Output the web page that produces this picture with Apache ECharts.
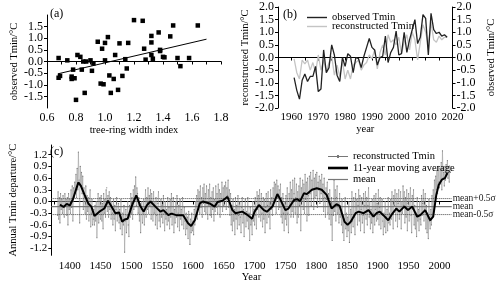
<!DOCTYPE html>
<html><head><meta charset="utf-8">
<script src="https://cdn.jsdelivr.net/npm/echarts@6/dist/echarts.min.js"></script>
<style>html,body{margin:0;padding:0;background:#fff}#c{width:500px;height:287px}</style>
</head><body><div id="c"></div>
<script>
// ---------- Panel (a): scatter ----------
const scatterX = [0.68,0.68,0.69,0.74,0.77,0.77,0.78,0.79,0.80,0.81,0.83,0.84,0.85,0.86,0.87,0.90,0.91,0.92,0.95,0.97,0.98,0.99,1.00,1.00,1.02,1.03,1.04,1.06,1.07,1.09,1.10,1.12,1.14,1.15,1.16,1.20,1.26,1.27,1.28,1.32,1.32,1.32,1.33,1.37,1.38,1.38,1.40,1.41,1.45,1.47,1.50,1.52,1.58,1.64];
const scatterY = [0.15,-0.70,-0.62,0.05,-0.65,-0.75,-0.35,-0.72,-1.65,0.28,0.20,-0.35,0.00,-1.35,0.00,0.05,-0.40,-0.08,0.85,-0.95,0.55,-0.98,0.05,0.80,1.05,-0.60,-1.35,-0.75,0.28,-1.22,0.78,-0.62,0.10,-0.30,0.80,1.78,1.75,0.55,0.08,1.10,0.82,0.28,0.12,1.25,0.45,0.50,0.20,0.18,1.08,1.55,0.15,-0.20,0.15,1.55];
const fitX = [0.675, 1.70];
const fitY = [-0.53, 0.96];
const aXLabels = [0.6,0.8,1.0,1.2,1.4,1.6,1.8];
const aXTicks = [0.6,0.7,0.8,0.9,1.0,1.1,1.2,1.3,1.4,1.5,1.6,1.7,1.8];
const aYLabels = [-2,-1.5,-1,-0.5,0,0.5,1,1.5,2];

// ---------- Panel (b): observed vs reconstructed ----------
const bStartYear = 1961;
const observedTmin = [-0.8,-1.3,-1.65,-0.9,-0.65,-0.95,-0.75,-0.75,-0.35,-1.35,-1.25,0.3,-0.6,-0.4,0.5,0.1,-0.7,-0.95,0.0,-0.35,0.15,0.05,-0.6,0.0,-0.05,-0.4,0.05,0.4,0.75,0.4,0.3,-0.3,0.0,0.05,0.85,-0.2,0.2,0.4,1.05,0.1,0.15,1.0,0.2,0.7,1.1,1.5,0.55,0.8,1.7,1.55,0.1,1.75,1.1,0.95,1.0,0.85,0.9,0.8];
const reconstructedTmin = [-0.05,-0.6,-0.85,-0.1,-0.25,-0.1,-0.5,-0.2,-0.6,0.1,-0.5,-0.1,-0.55,-0.2,0.05,-0.7,-0.3,-0.75,-0.15,-0.85,-0.5,-0.85,-0.3,-0.2,-0.1,-0.5,-0.3,-0.2,0.1,-0.05,0.3,-0.45,0.2,0.5,0.1,0.9,0.6,0.7,0.5,0.8,0.15,0.6,0.9,0.3,1.0,0.7,-0.1,0.6,1.3,1.0,0.5,1.4,0.7,0.6,0.85,0.7,0.8,0.8];
const bXLabels = [1960,1970,1980,1990,2000,2010,2020];
const bXTicks = [1955,1960,1965,1970,1975,1980,1985,1990,1995,2000,2005,2010,2015,2020];
const bYLabels = [-2,-1.5,-1,-0.5,0,0.5,1,1.5,2];

// ---------- Panel (c): reconstruction ----------
const cStartYear = 1380;
const annualRows = [
"-0.35,0.25,-0.45,0.1,-0.55,0.2,-0.2,0.05,-0.3,0.15",
"-0.15,-0.4,0.2,-0.1,0.05,-0.35,0.1,-0.6,0.2,-0.2",
"0.05,-0.3,0.3,-0.15,0.4,-0.5,0.35,0.1,0.5,0.2",
"0.7,0.1,0.85,0.3,1.27,0.55,-0.55,0.9,0.4,0.75",
"0.2,0.65,-0.2,0.35,0.1,-0.3,0.4,-0.45,0.15,-0.25",
"0.1,-0.5,-0.1,0.3,-0.65,-0.3,0.05,-0.6,-0.45,-0.2",
"-0.6,-0.1,-0.5,0.0,-0.93,-0.3,0.2,-0.55,-0.25,0.1",
"-0.45,0.15,-0.5,-0.05,-0.7,0.2,-0.3,0.05,-0.4,0.3",
"0.35,-0.25,0.15,-0.4,0.25,-0.2,0.1,-0.45,0.0,-0.3",
"-0.6,0.05,-0.45,-0.1,-0.75,-0.2,0.1,-0.5,-0.3,-0.05",
"-0.55,-0.2,-0.7,0.05,-0.4,-0.85,-0.3,-0.6,-0.1,-1.3",
"-0.5,-0.2,-0.8,-0.35,0.0,-0.6,-0.9,-0.1,-0.4,0.2",
"-0.3,0.1,-0.45,0.3,-0.2,0.4,0.0,0.63,-0.1,0.35",
"0.2,-0.3,0.1,-0.5,-0.05,-0.8,-0.2,0.0,-0.55,-0.3",
"0.05,-0.6,-0.15,0.3,-0.4,0.1,-0.2,0.35,-0.3,0.15",
"-0.1,0.3,-0.45,0.2,-0.05,-0.5,0.25,-0.3,0.0,-0.6",
"0.1,-0.35,-0.7,-0.05,0.25,-0.5,-0.2,-0.65,0.05,-0.4",
"-0.1,-0.55,0.15,-0.3,-0.75,0.0,-0.45,-0.2,-0.6,0.1",
"-0.5,-0.15,-0.7,0.05,-0.4,0.2,-0.6,-0.3,0.1,-0.8",
"-0.2,-0.55,0.0,-0.4,0.15,-0.65,-0.3,-0.1,-0.75,0.05",
"-0.45,-0.2,-0.6,0.1,-0.35,-0.7,-0.15,-0.5,-0.85,-0.3",
"-0.7,-0.4,-0.95,-0.25,-0.6,-1.1,-0.45,-0.8,-0.3,-0.75",
"-0.5,-0.85,-0.2,-0.6,0.0,-0.35,0.15,-0.45,0.3,-0.1",
"0.25,-0.3,0.4,-0.15,0.1,-0.4,0.35,-0.05,0.45,-0.25",
"0.2,-0.3,0.4,0.0,-0.45,0.3,-0.1,0.45,-0.35,0.1",
"-0.4,0.25,-0.2,0.35,-0.5,0.05,-0.25,0.4,-0.15,0.2",
"-0.3,0.45,-0.1,0.3,-0.4,0.2,0.0,0.5,-0.25,0.35",
"-0.1,0.4,0.05,0.5,-0.2,0.35,0.15,0.55,-0.15,0.3",
"-0.35,0.2,-0.6,-0.1,-0.75,0.05,-0.5,-0.2,-0.85,0.1",
"-0.45,-0.1,-0.7,0.15,-0.35,-0.6,0.0,-0.4,-0.8,-0.15",
"0.1,-0.55,-0.2,-0.9,-0.3,0.05,-0.65,-0.25,-0.5,0.1",
"-0.7,-0.3,-1.0,-0.15,-0.6,-0.45,-0.85,0.0,-0.5,-0.2",
"-0.6,0.1,-0.35,-0.7,0.25,-0.2,0.15,-0.4,0.3,-0.1",
"-0.5,0.2,-0.3,-0.65,0.1,-0.45,0.05,-0.8,-0.15,0.2",
"-0.55,-0.1,0.25,-0.4,0.0,-0.7,0.3,-0.2,0.1,-0.35",
"0.35,-0.1,0.5,0.0,0.45,-0.3,0.55,0.1,0.4,-0.2",
"0.3,-0.15,0.45,-0.4,0.1,-0.55,0.2,-0.3,-0.75,0.0",
"-0.45,0.15,-0.6,0.35,-0.3,-0.8,0.2,-0.1,0.5,-0.4",
"0.3,-0.25,0.55,-0.4,0.2,0.6,-0.3,0.1,0.45,-0.55",
"0.25,-0.4,0.4,-0.1,0.6,-0.75,0.35,0.0,0.55,-0.2",
"0.45,-0.3,0.7,0.05,0.5,-0.5,0.6,0.15,-0.35,0.65",
"0.2,0.75,-0.1,0.55,0.3,0.8,-0.2,0.6,0.1,0.7",
"0.15,0.75,-0.15,0.5,0.3,0.65,-0.05,0.55,0.2,0.7",
"0.0,0.45,-0.25,0.6,0.1,-0.4,0.35,0.05,0.5,-0.3",
"0.2,-0.45,0.3,-0.1,-0.6,0.1,-1.0,0.0,-0.35,0.55",
"-0.25,0.3,-0.5,0.1,0.4,-0.3,0.0,-0.55,0.2,-0.4",
"-0.2,-0.6,0.05,-0.8,-0.35,-1.0,-0.45,0.1,-0.7,-0.3",
"-0.9,-0.4,-0.75,0.0,-1.05,-0.55,-0.2,-0.8,0.25,-0.5",
"-0.65,0.1,-0.4,-0.85,0.2,-0.3,0.05,-0.6,-0.1,0.3",
"-0.5,0.15,-0.75,-0.2,0.1,-0.55,-0.35,0.2,-0.8,-0.1",
"0.25,-0.45,0.1,-0.6,-0.1,0.35,-0.4,0.0,-0.7,-0.2",
"-0.55,0.05,-0.8,-0.3,0.15,-0.6,-0.2,0.2,-0.5,-0.05",
"-0.45,0.3,-0.6,-0.15,0.1,-0.7,-0.25,0.05,-0.5,-0.85",
"-0.3,-0.65,0.0,-0.8,-0.4,-0.2,-0.75,0.1,-0.55,-0.3",
"-0.6,0.05,-0.45,0.25,-0.3,-0.7,0.15,-0.1,0.3,-0.5",
"-0.2,0.2,-0.65,-0.05,0.3,-0.45,-0.25,0.25,-0.7,0.0",
"-0.3,0.4,-0.1,0.25,-0.55,0.1,-0.4,0.3,-0.75,-0.05",
"0.2,-0.5,0.0,0.35,-0.35,-0.8,0.15,-0.2,0.3,-0.6",
"-0.1,-0.7,-0.3,-0.9,0.1,-0.5,-0.2,-0.75,0.0,-0.45",
"-0.6,0.15,-0.35,-0.05,0.3,-0.5,-0.2,0.2,-0.7,-0.1",
"-0.8,-0.3,-0.95,0.05,-0.5,-0.7,-0.2,-0.6,0.15,-0.4",
"0.3,-0.2,0.55,0.1,0.65,0.3,0.8,0.2,0.9,0.5",
"0.35,0.85,0.45,1.0,0.3,1.3,0.6,0.75,0.4,0.9",
"0.55,0.95,0.7,1.05,0.6,0.8,0.5,0.9,0.75"
];
const maYears  = [1384,1390,1395,1400,1405,1410,1414,1418,1424,1430,1435,1440,1448,1456,1462,1467,1474,1480,1485,1489,1494,1501,1508,1514,1520,1525,1531,1539,1547,1552,1560,1565,1573,1584,1592,1597,1603,1611,1616,1627,1635,1640,1648,1656,1664,1669,1680,1689,1696,1700,1707,1715,1720,1729,1737,1741,1750,1755,1764,1769,1774,1780,1785,1793,1801,1809,1817,1825,1833,1838,1846,1851,1856,1864,1869,1877,1885,1893,1898,1903,1909,1917,1922,1930,1935,1943,1949,1956,1964,1969,1977,1985,1990,1995,1999,2004,2009,2013];
const maValues = [-0.08,-0.14,-0.06,-0.10,0.05,0.30,0.49,0.40,0.17,-0.05,-0.13,-0.37,-0.26,-0.18,0.02,-0.11,-0.30,-0.28,-0.52,-0.46,-0.44,-0.10,0.16,-0.10,-0.26,-0.10,0.00,-0.13,-0.26,-0.22,-0.35,-0.31,-0.35,-0.35,-0.56,-0.63,-0.48,-0.05,0.00,-0.05,-0.13,-0.01,0.02,0.12,-0.22,-0.30,-0.26,-0.35,-0.44,-0.26,-0.09,-0.22,-0.26,-0.13,0.19,0.08,-0.22,-0.18,0.04,0.06,0.01,0.21,0.19,0.30,0.34,0.30,0.17,-0.18,-0.07,-0.11,-0.52,-0.60,-0.52,-0.30,-0.26,-0.30,-0.22,-0.39,-0.30,-0.26,-0.35,-0.48,-0.35,-0.18,-0.26,-0.13,-0.22,-0.13,-0.39,-0.35,-0.22,-0.48,-0.39,0.17,0.43,0.56,0.60,0.73];
const meanValue = -0.13;
const sigmaValue = 0.41;
const cXLabels = [1400,1450,1500,1550,1600,1650,1700,1750,1800,1850,1900,1950,2000];
const cXTicks = [1375,1400,1425,1450,1475,1500,1525,1550,1575,1600,1625,1650,1675,1700,1725,1750,1775,1800,1825,1850,1875,1900,1925,1950,1975,2000];
const cYLabels = [-1.2,-0.9,-0.6,-0.3,0,0.3,0.6,0.9,1.2];

// ---------- build ----------
const FONT = 'Liberation Serif';
const annualVals = annualRows.join(',').split(',').map(Number);
const annualData = annualVals.map((v, i) => [cStartYear + i, v]);
const maData = maYears.map((y, i) => [y, maValues[i]]);
const obsData = observedTmin.map((v, i) => [bStartYear + i, v]);
const recData = reconstructedTmin.map((v, i) => [bStartYear + i, v]);
const scatterData = scatterX.map((x, i) => [x, scatterY[i]]);
const fitData = fitX.map((x, i) => [x, fitY[i]]);

function axisBase(extra) {
  const base = {
    type: 'value',
    axisLine: {show: true, lineStyle: {color: '#000', width: 1}},
    axisTick: {show: true, length: 3, lineStyle: {color: '#000'}},
    splitLine: {show: false},
    axisLabel: {color: '#000', fontFamily: FONT, fontSize: 11, margin: 4},
    nameTextStyle: {color: '#000', fontFamily: FONT, fontSize: 10.5},
    nameLocation: 'middle'
  };
  for (const k in extra) {
    if (typeof extra[k] === 'object' && !Array.isArray(extra[k]) && base[k]) base[k] = Object.assign({}, base[k], extra[k]);
    else base[k] = extra[k];
  }
  return base;
}
const plain = v => String(v);
const fix1 = v => v.toFixed(1);

const cXmin = 1370, cXmax = 2020;
const lineIcon = (w, h) => 'path://M0,0h' + w + 'v' + h + 'h-' + w + 'z';
const option = {
  animation: false,
  backgroundColor: '#fff',
  grid: [
    {left: 47, top: 15, width: 174, height: 93},
    {left: 278, top: 7, width: 174.5, height: 101},
    {left: 46.7, top: 145, width: 405, height: 110.3}
  ],
  xAxis: [
    axisBase({gridIndex: 0, min: 0.6, max: 1.8, name: 'tree-ring width index', nameGap: 17,
      axisTick: {customValues: aXTicks}, axisLabel: {customValues: aXLabels, fontSize: 12, formatter: fix1}}),
    axisBase({gridIndex: 1, min: 1955, max: 2020, name: 'year', nameGap: 15,
      axisTick: {customValues: bXTicks}, axisLabel: {customValues: bXLabels, fontSize: 11, formatter: plain}}),
    axisBase({gridIndex: 2, min: cXmin, max: cXmax, name: 'Year', nameGap: 13,
      axisTick: {customValues: cXTicks}, axisLabel: {customValues: cXLabels, fontSize: 11, margin: 5, formatter: plain}})
  ],
  yAxis: [
    axisBase({gridIndex: 0, min: -2, max: 2, name: 'observed Tmin/°C', nameGap: 27,
      axisLabel: {customValues: aYLabels, fontSize: 12, formatter: fix1}, axisTick: {customValues: aYLabels}}),
    axisBase({gridIndex: 1, min: -2, max: 2, name: 'reconstructed Tmin/°C', nameGap: 22, position: 'left',
      axisLabel: {customValues: bYLabels, fontSize: 12, formatter: fix1}, axisTick: {customValues: bYLabels}}),
    axisBase({gridIndex: 1, min: -2, max: 2, name: 'observed Tmin/°C', nameGap: 33, position: 'right', nameRotate: 90,
      axisLabel: {customValues: bYLabels, fontSize: 12, formatter: fix1}, axisTick: {customValues: bYLabels}}),
    axisBase({gridIndex: 2, min: -1.38, max: 1.45, name: 'Annual Tmin departure/°C', nameGap: 28,
      axisLabel: {customValues: cYLabels, fontSize: 11, formatter: fix1}, axisTick: {customValues: cYLabels}})
  ],
  legend: [
    {left: 302, top: 7, orient: 'vertical', itemWidth: 20, itemHeight: 8, itemGap: -2, symbolKeepAspect: true,
      textStyle: {fontFamily: FONT, fontSize: 10.5, color: '#000'},
      data: [{name: 'observed Tmin', icon: lineIcon(20, 1.4)}, {name: 'reconstructed Tmin', icon: lineIcon(20, 1.4)}]},
    {left: 323, top: 146, orient: 'vertical', itemWidth: 20, itemHeight: 8, itemGap: 0.5, symbolKeepAspect: true,
      textStyle: {fontFamily: FONT, fontSize: 10.5, color: '#000'},
      data: [{name: 'reconstructed Tmin ', icon: 'path://M0,1.6h20v0.8h-20z M9,0.6h2v2.8h-2z'},
             {name: '11-year moving average', icon: lineIcon(20, 2.6)},
             {name: 'mean', icon: lineIcon(20, 1.2)}]}
  ],
  graphic: [
    {type: 'text', left: 50, top: 8, style: {text: '(a)', font: '12px "Liberation Serif"', fill: '#000'}},
    {type: 'text', left: 283, top: 9, style: {text: '(b)', font: '12px "Liberation Serif"', fill: '#000'}},
    {type: 'text', left: 50, top: 146, style: {text: '(c)', font: '12px "Liberation Serif"', fill: '#000'}}
  ],
  series: [
    {type: 'scatter', xAxisIndex: 0, yAxisIndex: 0, data: scatterData, symbol: 'rect', symbolSize: 4.5, itemStyle: {color: '#000', opacity: 1}},
    {type: 'line', xAxisIndex: 0, yAxisIndex: 0, data: fitData, symbol: 'none', lineStyle: {color: '#000', width: 1}},
    {name: 'reconstructed Tmin', type: 'line', xAxisIndex: 1, yAxisIndex: 1, data: recData, symbol: 'none', lineStyle: {color: '#c4c4c4', width: 1.3}, itemStyle: {color: '#c4c4c4'}},
    {name: 'observed Tmin', type: 'line', xAxisIndex: 1, yAxisIndex: 2, data: obsData, symbol: 'none', lineStyle: {color: '#222', width: 1.3}, itemStyle: {color: '#222'}, z: 3},
    {name: 'reconstructed Tmin ', type: 'line', xAxisIndex: 2, yAxisIndex: 3, data: annualData, symbol: 'circle', symbolSize: 1.2, showAllSymbol: true,
      lineStyle: {color: '#9c9c9c', width: 0.6}, itemStyle: {color: '#777'}},
    {name: 'mean', type: 'line', xAxisIndex: 2, yAxisIndex: 3, data: [[cXmin, meanValue], [cXmax, meanValue]], symbol: 'none',
      lineStyle: {color: '#777', width: 1.2}, itemStyle: {color: '#777'},
      endLabel: {show: true, formatter: 'mean', fontFamily: FONT, fontSize: 9.5, color: '#222', distance: 1}},
    {type: 'line', xAxisIndex: 2, yAxisIndex: 3, data: [[cXmin, meanValue + 0.5 * sigmaValue], [cXmax, meanValue + 0.5 * sigmaValue]], symbol: 'none',
      lineStyle: {color: '#444', width: 1, type: 'dotted'},
      endLabel: {show: true, formatter: 'mean+0.5σ', fontFamily: FONT, fontSize: 9.5, color: '#222', distance: 1}},
    {type: 'line', xAxisIndex: 2, yAxisIndex: 3, data: [[cXmin, meanValue - 0.5 * sigmaValue], [cXmax, meanValue - 0.5 * sigmaValue]], symbol: 'none',
      lineStyle: {color: '#444', width: 1, type: 'dotted'},
      endLabel: {show: true, formatter: 'mean-0.5σ', fontFamily: FONT, fontSize: 9.5, color: '#222', distance: 1}},
    {name: '11-year moving average', type: 'line', xAxisIndex: 2, yAxisIndex: 3, data: maData, symbol: 'none',
      lineStyle: {color: '#000', width: 2}, itemStyle: {color: '#000'}, z: 4}
  ]
};
const chart = echarts.init(document.getElementById('c'), null, {renderer: 'canvas'});
chart.setOption(option);
</script>
</body></html>
